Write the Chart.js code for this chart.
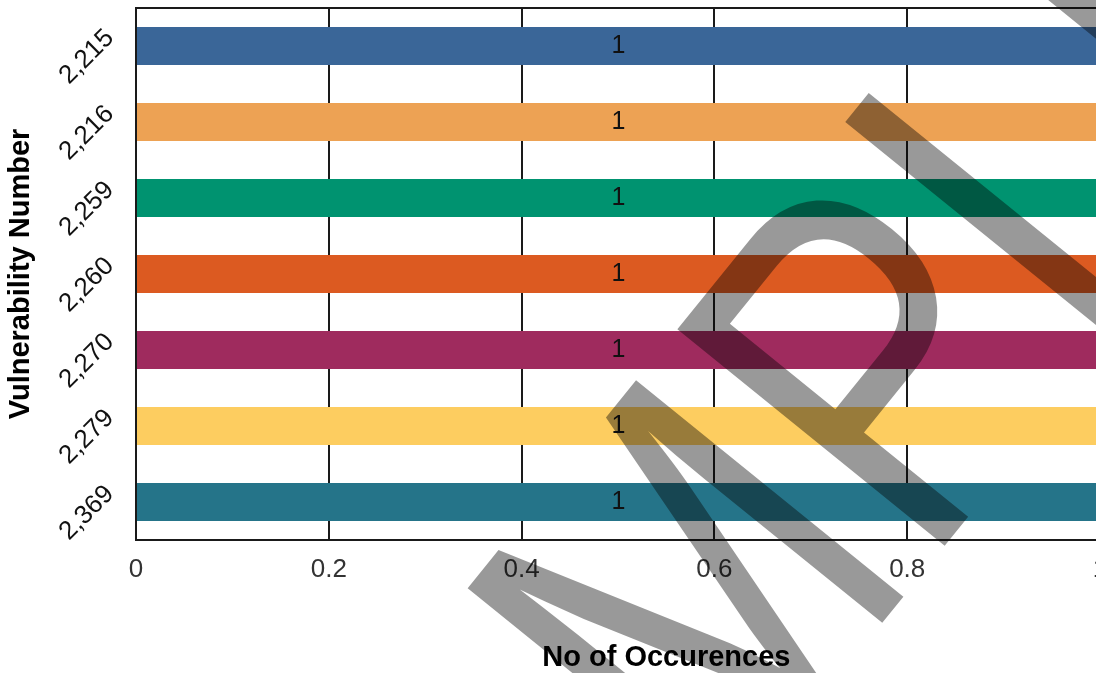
<!DOCTYPE html>
<html>
<head>
<meta charset="utf-8">
<script src="https://cdn.jsdelivr.net/npm/chart.js@4.4.1/dist/chart.umd.min.js"></script>
<style>
  html, body { margin: 0; padding: 0; background: #fff; overflow: hidden; }
  canvas { display: block; }
</style>
</head>
<body>
<canvas id="vulnChart" width="1100" height="673"></canvas>
<script>
// Vulnerability numbers and how often each one occurs
const vulnNumbers = ['2,215', '2,216', '2,259', '2,260', '2,270', '2,279', '2,369'];
const occurrences = [1, 1, 1, 1, 1, 1, 1];
const barColors = ['#3a6698', '#eda254', '#009370', '#dc5a21', '#9f2b5e', '#fdcd60', '#257489'];
const xTickLabels = ['0', '0.2', '0.4', '0.6', '0.8', '1'];

const FONT = '"Liberation Sans", Arial, sans-serif';

// white background and the top edge of the plot frame
const framePlugin = {
  id: 'frame',
  beforeDraw(chart) {
    const ctx = chart.ctx;
    ctx.save();
    ctx.fillStyle = '#fff';
    ctx.fillRect(0, 0, chart.width, chart.height);
    ctx.restore();
  },
  afterDatasetsDraw(chart) {
    const { ctx, chartArea } = chart;
    ctx.save();
    ctx.strokeStyle = '#1a1a1a';
    ctx.lineWidth = 2;
    ctx.beginPath();
    ctx.moveTo(chartArea.left, chartArea.top);
    ctx.lineTo(chartArea.right, chartArea.top);
    ctx.stroke();
    ctx.restore();
  }
};

// value written in the middle of each bar
const valueLabels = {
  id: 'valueLabels',
  afterDatasetsDraw(chart) {
    const ctx = chart.ctx;
    const meta = chart.getDatasetMeta(0);
    ctx.save();
    ctx.font = '25px ' + FONT;
    ctx.fillStyle = '#111';
    ctx.textAlign = 'center';
    ctx.textBaseline = 'middle';
    meta.data.forEach((bar, i) => {
      ctx.fillText(String(occurrences[i]), (bar.x + bar.base) / 2, bar.y);
    });
    ctx.restore();
  }
};

// big grey "SAMPLE" stamp across the picture
const watermark = {
  id: 'watermark',
  afterDraw(chart) {
    const ctx = chart.ctx;
    const size = 500;
    ctx.save();
    ctx.globalCompositeOperation = 'multiply';
    ctx.fillStyle = '#999999';
    ctx.font = size + 'px ' + FONT;
    ctx.textBaseline = 'alphabetic';
    ctx.translate(955, 533);
    ctx.rotate(-51 * Math.PI / 180);
    ctx.scale(0.8, 1);
    const lead = ctx.measureText('SAM').width + 0.123 * size;
    ctx.fillText('SAMPLE', -lead, 0);
    ctx.restore();
  }
};

new Chart(document.getElementById('vulnChart'), {
  type: 'bar',
  data: {
    labels: vulnNumbers,
    datasets: [{
      data: occurrences,
      backgroundColor: barColors,
      borderWidth: 0,
      barPercentage: 0.5,
      categoryPercentage: 1.0
    }]
  },
  options: {
    indexAxis: 'y',
    responsive: false,
    animation: false,
    layout: { padding: { top: 8, left: 0, right: 0, bottom: 0 } },
    plugins: {
      legend: { display: false },
      tooltip: { enabled: false }
    },
    scales: {
      x: {
        min: 0,
        max: 1,
        afterFit(scale) {
          scale.height = 133;
          scale.paddingLeft = 0;
          scale.paddingRight = 0;
        },
        grid: { color: '#1a1a1a', lineWidth: 2, drawTicks: false },
        border: { color: '#1a1a1a', width: 2 },
        ticks: {
          stepSize: 0.2,
          padding: 14,
          maxRotation: 0,
          color: '#333',
          font: { family: FONT, size: 26 },
          callback: (value, index) => xTickLabels[index]
        },
        title: {
          display: true,
          text: ' '.repeat(12) + 'No of Occurences',
          color: '#000',
          font: { family: FONT, size: 29, weight: 'bold' },
          padding: { top: 0, bottom: -2 }
        }
      },
      y: {
        afterFit(scale) {
          scale.width = 136;
          scale.paddingTop = 0;
          scale.paddingBottom = 0;
        },
        grid: { display: false, drawTicks: false },
        border: { color: '#1a1a1a', width: 2 },
        ticks: {
          minRotation: 45,
          maxRotation: 45,
          padding: 26,
          labelOffset: -12,
          color: '#111',
          font: { family: FONT, size: 26 }
        },
        title: {
          display: true,
          text: 'Vulnerability Number',
          color: '#000',
          font: { family: FONT, size: 29, weight: 'bold' },
          padding: { top: 4, bottom: 0 }
        }
      }
    }
  },
  plugins: [framePlugin, valueLabels, watermark]
});
</script>
</body>
</html>
